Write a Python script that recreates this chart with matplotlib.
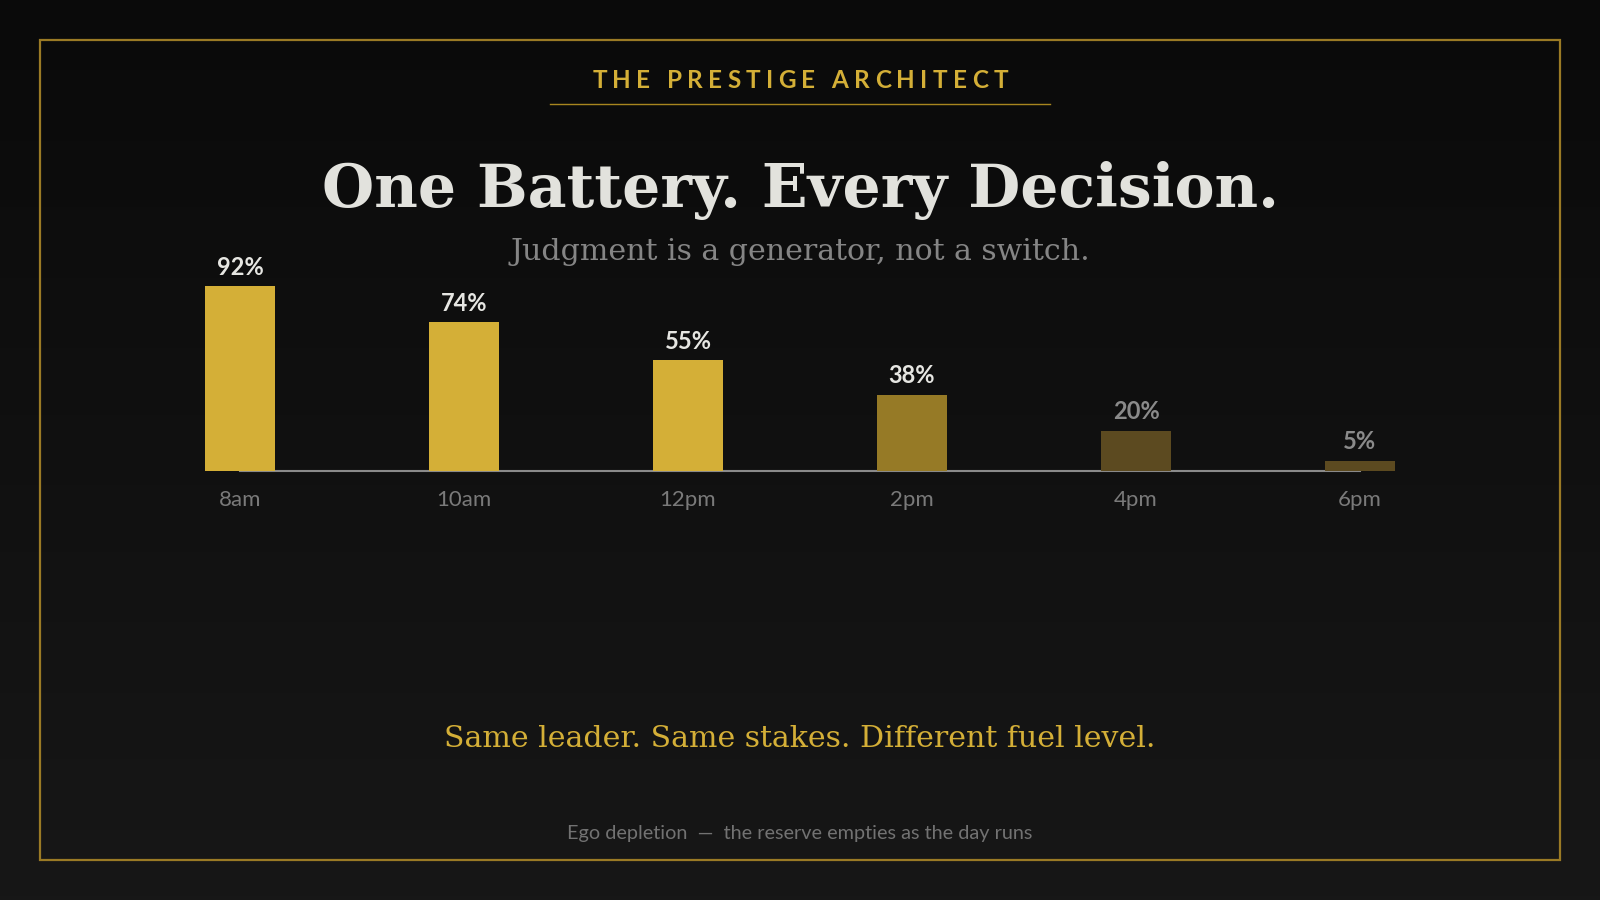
import numpy as np
import matplotlib
matplotlib.use('Agg')
import matplotlib.pyplot as plt
from matplotlib.colors import LinearSegmentedColormap
from matplotlib.patches import Rectangle

# data
hours = ['8am', '10am', '12pm', '2pm', '4pm', '6pm']
reserve = [92, 74, 55, 38, 20, 5]

# styles
bar_colors = ['#d4af37', '#d4af37', '#d4af37', '#967a26', '#5c4a20', '#5c4a20']
label_colors = ['#e6e6e2', '#e6e6e2', '#e6e6e2', '#e6e6e2', '#8a8a8a', '#8a8a8a']
GOLD = '#d4af37'
W, H = 1600, 900


def fx(x):
    return x / W


def fy(y):
    return 1 - y / H


fig = plt.figure(figsize=(16, 9), dpi=100)

# background gradient
bg = fig.add_axes([0, 0, 1, 1])
cmap = LinearSegmentedColormap.from_list('bg', ['#0a0a0a', '#171717'])
bg.imshow(np.linspace(0, 1, 256).reshape(-1, 1), aspect='auto', cmap=cmap,
          extent=[0, 1, 0, 1])
bg.set_axis_off()

# gold frame
fig.add_artist(Rectangle((fx(40), fy(860)), fx(1520), 820 / H, transform=fig.transFigure,
                         fill=False, edgecolor='#9a7a25', lw=1.6))


# letter-spaced header
def spaced_text(s, cx, cy, spacing, **kw):
    r = fig.canvas.get_renderer()

    def width(txt):
        t = fig.text(0, 0, txt, **kw)
        w = t.get_window_extent(r).width
        t.remove()
        return w

    base = width('II')
    adv = [width('I' + ch + 'I') - base for ch in s]
    total = sum(adv) + spacing * (len(s) - 1)
    x = cx - total / 2
    for ch, a in zip(s, adv):
        if ch != ' ':
            fig.text(fx(x + a / 2), fy(cy), ch, ha='center', va='center', **kw)
        x += a + spacing


spaced_text('THE PRESTIGE ARCHITECT', 800, 80, 5.3, family='Lato', weight='bold',
            fontsize=17.5, color=GOLD)
fig.add_artist(plt.Line2D([fx(550), fx(1050)], [fy(104), fy(104)], transform=fig.transFigure,
                          color='#a8861f', lw=1))

fig.text(0.5, fy(191), 'One Battery. Every Decision.', ha='center', va='center',
         family='DejaVu Serif', weight='bold', fontsize=43.2, color='#e2e2dd')
fig.text(0.5, fy(252), 'Judgment is a generator, not a switch.', ha='center', va='center',
         family='DejaVu Serif', fontsize=21.6, color='#858585')

# bar chart
ax = fig.add_axes([fx(128), fy(471), fx(1344), 201 / H])
ax.set_xlim(-0.5, len(hours) - 0.5)
ax.set_ylim(0, 100)
ax.set_axis_off()
x = np.arange(len(hours))
ax.plot([x[0], x[-1]], [0, 0], color='#8a8a8a', lw=1.5, zorder=1, clip_on=False)
ax.bar(x, reserve, width=0.31, color=bar_colors, zorder=2)
for i, v in enumerate(reserve):
    ax.annotate(f'{v}%', (x[i], v), xytext=(0, 19), textcoords='offset pixels',
                ha='center', va='center', family='Lato', weight='bold', fontsize=17,
                color=label_colors[i])
    ax.annotate(hours[i], (x[i], 0), xytext=(0, -29), textcoords='offset pixels',
                ha='center', va='center', family='Lato', fontsize=16, color='#7a7a7a',
                annotation_clip=False)

fig.text(0.5, fy(739), 'Same leader. Same stakes. Different fuel level.', ha='center',
         va='center', family='DejaVu Serif', fontsize=21.6, color=GOLD)
fig.text(0.5, fy(834), 'Ego depletion  \u2014  the reserve empties as the day runs', ha='center',
         va='center', family='Lato', fontsize=14.3, color='#727272')

fig.savefig('out.png', dpi=100, facecolor='#0a0a0a')
